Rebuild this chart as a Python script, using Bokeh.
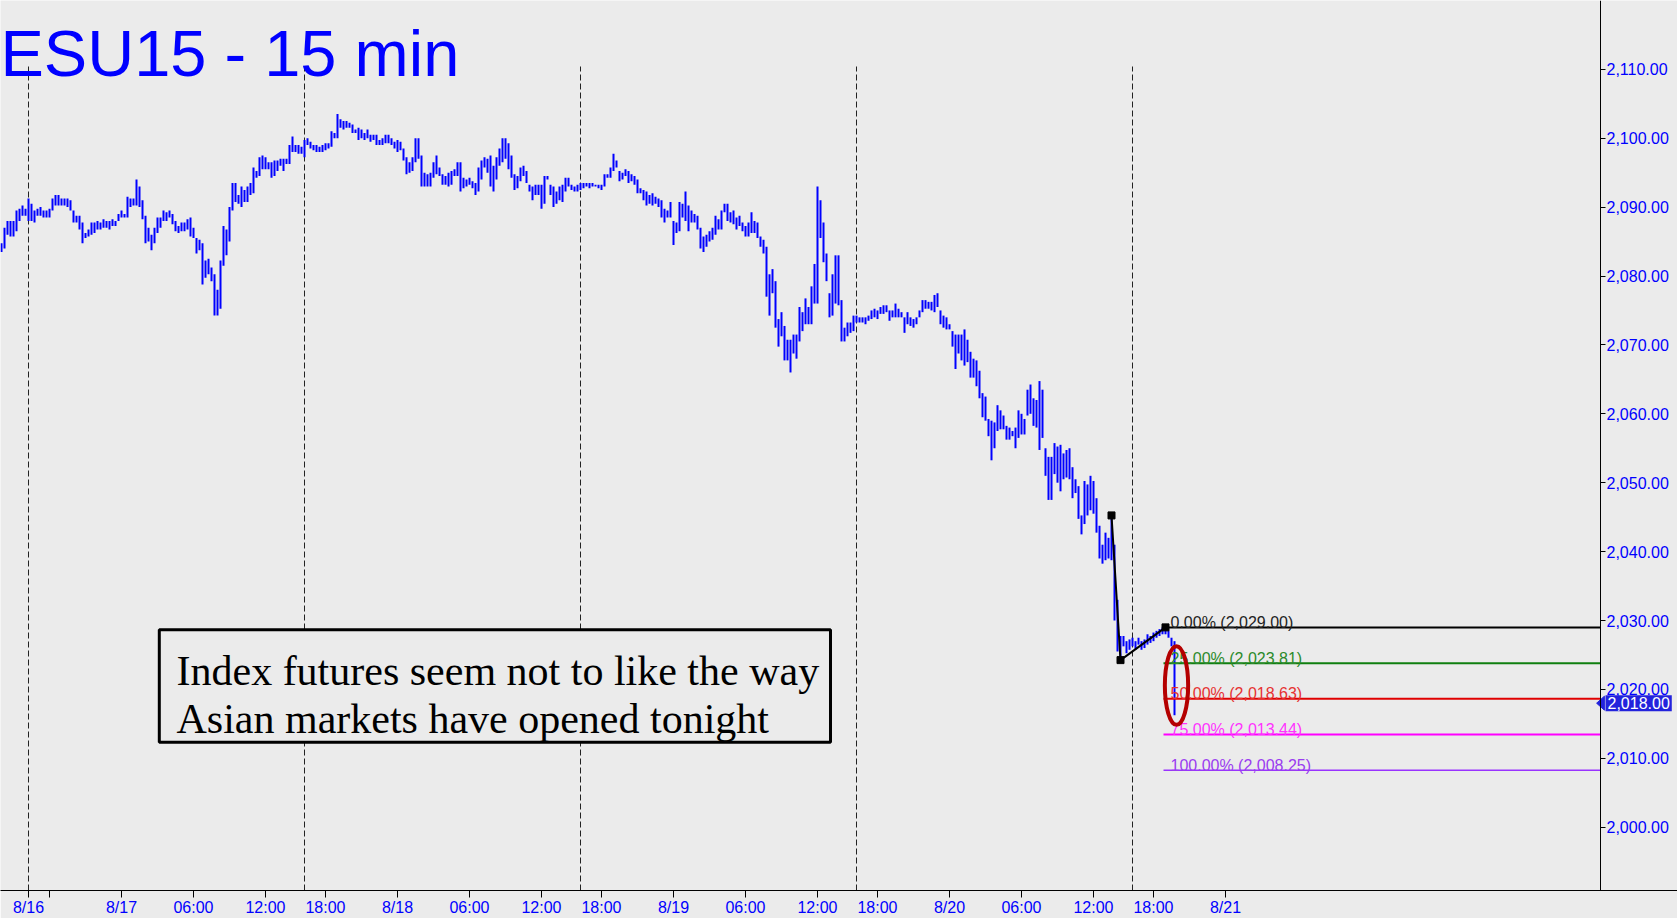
from bokeh.plotting import figure
from bokeh.models import FixedTicker, NumeralTickFormatter, Label, Range1d, BoxAnnotation
from bokeh.embed import file_html
from bokeh.resources import INLINE
from bokeh.core.properties import value

# ---------------- data (15-minute bars, indexed by bar number) ----------------
H1 = [2084.75, 2087.0, 2088.0, 2088.0, 2088.0, 2089.5, 2089.75, 2090.25, 2089.75, 2091.25,
      2090.5, 2089.5, 2089.75, 2090.0, 2089.5, 2089.5, 2089.75, 2091.25, 2091.75, 2091.75,
      2091.25, 2091.25, 2091.25, 2091.0, 2089.5, 2088.75, 2088.75, 2087.75, 2086.25, 2086.75,
      2087.75, 2087.75, 2088.0, 2087.75, 2088.25, 2088.0, 2088.0, 2088.25, 2088.0, 2089.0,
      2089.5, 2089.0, 2091.5, 2091.25, 2091.25, 2094.0, 2093.0, 2091.0, 2088.75, 2087.0,
      2086.0, 2087.0, 2088.5, 2088.5, 2089.5, 2089.25, 2089.5, 2089.0, 2088.0, 2087.25,
      2087.75, 2087.75, 2088.25, 2088.5, 2087.0, 2085.5, 2085.25, 2084.75, 2082.25, 2082.5,
      2081.25, 2080.25, 2078.0, 2082.25, 2087.25, 2086.75, 2090.0, 2093.5, 2093.5, 2091.75,
      2093.0, 2092.5, 2093.0, 2093.5, 2095.75, 2095.25, 2097.25, 2097.5, 2097.25, 2096.5,
      2096.5, 2096.75, 2096.75, 2097.0, 2097.0, 2097.0, 2099.0, 2100.25, 2099.0, 2099.0]
L1 = [2083.5, 2084.0, 2086.0, 2085.75, 2085.75, 2086.5, 2088.0, 2088.75, 2088.75, 2088.0,
      2088.0, 2087.75, 2088.75, 2088.75, 2088.5, 2088.5, 2088.5, 2089.5, 2090.25, 2090.25,
      2090.25, 2090.25, 2090.0, 2089.5, 2087.75, 2087.75, 2086.75, 2084.75, 2085.5, 2085.75,
      2086.0, 2086.25, 2086.75, 2086.75, 2087.0, 2087.0, 2086.75, 2087.25, 2087.25, 2088.0,
      2088.5, 2088.5, 2088.5, 2090.0, 2090.25, 2090.25, 2090.0, 2088.25, 2084.75, 2085.0,
      2083.75, 2084.75, 2086.25, 2087.0, 2088.0, 2088.0, 2088.5, 2087.5, 2086.5, 2086.25,
      2086.5, 2086.5, 2086.75, 2085.75, 2085.5, 2083.25, 2083.75, 2078.75, 2079.75, 2080.25,
      2079.25, 2074.25, 2074.25, 2075.25, 2081.5, 2083.0, 2085.0, 2089.5, 2090.75, 2090.5,
      2090.0, 2090.75, 2090.75, 2091.75, 2092.0, 2094.25, 2094.5, 2095.5, 2095.5, 2095.5,
      2094.25, 2094.5, 2095.25, 2096.0, 2095.25, 2096.25, 2096.25, 2098.0, 2098.0, 2097.75]
H2 = [2098.75, 2099.75, 2100.0, 2099.5, 2099.0, 2099.0, 2098.75, 2099.0, 2099.25, 2099.25,
      2101.0, 2100.75, 2103.5, 2102.75, 2102.5, 2102.5, 2102.25, 2102.0, 2101.25, 2101.5,
      2101.25, 2100.75, 2101.25, 2100.5, 2100.5, 2100.5, 2099.75, 2100.0, 2100.5, 2100.5,
      2100.0, 2099.5, 2099.75, 2099.5, 2098.5, 2097.25, 2096.5, 2097.25, 2100.0, 2100.0,
      2097.5, 2095.0, 2094.75, 2095.0, 2096.5, 2097.5, 2095.75, 2094.75, 2094.5, 2095.0,
      2095.25, 2095.5, 2096.5, 2096.5, 2094.25, 2094.0, 2094.25, 2093.75, 2093.5, 2095.75,
      2096.75, 2097.25, 2097.0, 2097.5, 2096.0, 2097.25, 2098.5, 2100.0, 2100.0, 2099.25,
      2097.5, 2094.75, 2094.5, 2095.75, 2096.0, 2095.25, 2093.25, 2093.0, 2093.25, 2093.25,
      2093.25, 2094.5, 2094.5, 2093.25, 2093.0, 2092.25, 2093.0, 2093.25, 2094.25, 2094.25,
      2093.25, 2093.0, 2093.25, 2093.5, 2093.5, 2093.5, 2093.5, 2093.5, 2093.25, 2093.25,
      2093.25]
L2 = [2097.75, 2097.25, 2099.0, 2098.5, 2098.25, 2098.0, 2098.0, 2098.0, 2098.25, 2098.5,
      2098.75, 2100.0, 2100.0, 2101.5, 2101.25, 2101.5, 2101.5, 2100.75, 2100.75, 2099.75,
      2100.0, 2099.75, 2100.0, 2099.5, 2099.75, 2099.0, 2099.0, 2099.0, 2099.25, 2099.25,
      2099.0, 2098.5, 2098.0, 2098.25, 2096.75, 2094.75, 2095.0, 2095.25, 2096.5, 2097.0,
      2093.0, 2093.0, 2093.0, 2093.0, 2094.25, 2094.75, 2094.5, 2093.25, 2093.25, 2093.0,
      2093.25, 2094.5, 2094.5, 2092.25, 2092.75, 2093.0, 2093.25, 2092.75, 2091.75, 2092.25,
      2094.0, 2095.75, 2095.0, 2093.0, 2092.25, 2094.0, 2096.0, 2096.5, 2097.0, 2095.5,
      2094.25, 2092.5, 2092.75, 2093.75, 2094.5, 2093.5, 2092.25, 2091.0, 2091.75, 2091.75,
      2089.75, 2090.5, 2094.0, 2091.75, 2090.0, 2090.5, 2091.0, 2090.75, 2092.25, 2093.0,
      2092.5, 2092.25, 2092.25, 2092.5, 2092.75, 2093.0, 2092.75, 2093.0, 2093.0, 2092.75,
      2092.5]
H3 = [2094.75, 2094.75, 2095.75, 2097.75, 2096.75, 2095.25, 2095.0, 2095.5, 2095.25, 2094.75,
      2094.5, 2094.0, 2092.75, 2092.5, 2092.25, 2091.75, 2092.0, 2091.5, 2091.25, 2091.0,
      2089.75, 2089.5, 2090.75, 2088.0, 2087.75, 2090.75, 2090.5, 2092.25, 2090.25, 2089.5,
      2089.0, 2088.75, 2087.0, 2085.75, 2086.0, 2086.5, 2087.0, 2088.75, 2088.25, 2089.5,
      2090.5, 2090.5, 2089.25, 2089.5, 2088.5, 2088.75, 2087.75, 2087.25, 2087.75, 2089.25,
      2088.0, 2087.75, 2085.75, 2085.25, 2084.25, 2080.25, 2081.0, 2079.25, 2073.75, 2074.75,
      2072.75, 2070.75, 2070.75, 2071.5, 2071.5, 2075.5, 2074.75, 2076.75, 2075.5, 2078.5,
      2081.75, 2093.0, 2091.0, 2087.75, 2083.25, 2077.5, 2080.25, 2083.0, 2083.0, 2076.5,
      2072.5, 2073.25, 2073.25, 2074.25, 2074.25, 2074.0, 2074.0, 2074.0, 2074.25, 2075.0,
      2075.25, 2075.0, 2075.5, 2075.75, 2075.75, 2075.0, 2075.0, 2076.0, 2075.25]
L3 = [2093.0, 2094.25, 2094.25, 2095.25, 2095.75, 2093.75, 2094.0, 2094.5, 2093.5, 2093.75,
      2093.25, 2092.0, 2092.0, 2091.0, 2090.25, 2090.5, 2090.25, 2090.5, 2090.0, 2088.5,
      2087.75, 2088.5, 2088.5, 2084.5, 2086.25, 2086.5, 2088.5, 2088.0, 2086.5, 2087.75,
      2087.75, 2086.75, 2084.0, 2083.5, 2084.25, 2085.0, 2085.25, 2086.0, 2086.75, 2086.75,
      2089.25, 2088.0, 2087.75, 2087.5, 2086.75, 2087.25, 2086.5, 2085.75, 2085.75, 2086.25,
      2086.25, 2085.5, 2084.25, 2083.25, 2077.0, 2074.25, 2077.5, 2072.5, 2069.75, 2071.25,
      2067.75, 2067.75, 2066.0, 2068.75, 2068.0, 2070.5, 2072.0, 2073.0, 2073.0, 2073.0,
      2076.0, 2076.0, 2085.5, 2082.0, 2079.25, 2074.0, 2074.25, 2076.0, 2075.75, 2070.5,
      2070.5, 2071.25, 2071.75, 2072.0, 2073.25, 2073.25, 2073.25, 2073.0, 2073.5, 2073.75,
      2074.0, 2073.75, 2074.5, 2074.5, 2074.75, 2073.5, 2074.0, 2074.0, 2074.0]
H4 = [2074.75, 2074.0, 2074.75, 2074.0, 2073.75, 2074.0, 2075.0, 2076.5, 2076.5, 2076.25,
      2076.25, 2077.25, 2077.5, 2075.0, 2074.25, 2074.0, 2073.0, 2072.0, 2071.5, 2071.5,
      2071.5, 2072.25, 2070.75, 2069.0, 2068.0, 2067.75, 2066.25, 2063.0, 2062.5, 2059.25,
      2059.0, 2058.75, 2061.25, 2060.5, 2059.75, 2058.25, 2058.0, 2057.5, 2058.0, 2060.5,
      2060.0, 2059.25, 2063.5, 2064.25, 2062.25, 2062.0, 2064.75, 2063.5, 2055.0, 2053.75,
      2053.75, 2055.75, 2055.25, 2055.5, 2054.25, 2054.75, 2055.0, 2052.25, 2050.5, 2049.5,
      2045.25, 2050.25, 2049.75, 2051.0, 2050.25, 2047.75, 2043.75, 2041.0, 2042.75, 2042.0,
      2045.25, 2041.0, 2033.0, 2027.75, 2027.75, 2027.0, 2027.25, 2027.5, 2027.0, 2027.5,
      2027.0, 2027.25, 2028.0, 2027.75, 2028.25, 2028.5, 2028.75, 2029.0, 2029.0, 2028.5,
      2027.5, 2027.0]
L4 = [2074.0, 2071.75, 2073.0, 2072.75, 2072.5, 2073.0, 2074.0, 2074.75, 2075.25, 2075.25,
      2075.0, 2074.75, 2075.5, 2073.0, 2072.5, 2072.25, 2072.25, 2069.75, 2066.5, 2068.75,
      2067.75, 2067.0, 2067.5, 2065.25, 2065.25, 2064.0, 2062.25, 2059.5, 2059.0, 2056.75,
      2053.25, 2055.0, 2057.5, 2057.75, 2057.75, 2056.25, 2056.25, 2056.75, 2055.0, 2056.5,
      2057.0, 2057.0, 2059.75, 2060.0, 2058.25, 2058.0, 2054.75, 2056.5, 2051.0, 2047.5,
      2047.5, 2051.25, 2050.0, 2048.75, 2050.5, 2050.75, 2050.5, 2047.75, 2048.5, 2044.75,
      2042.5, 2044.0, 2045.25, 2046.0, 2045.5, 2042.75, 2039.0, 2038.25, 2038.75, 2039.0,
      2038.75, 2030.0, 2025.5, 2024.25, 2026.25, 2025.25, 2025.75, 2026.25, 2025.75, 2026.5,
      2025.75, 2026.0, 2026.5, 2026.75, 2027.0, 2027.5, 2027.75, 2028.0, 2028.0, 2027.5,
      2026.25, 2016.25]

highs = H1 + H2 + H3 + H4
lows = L1 + L2 + L3 + L4
bar_index = list(range(len(highs)))

# session-start bars (dashed separators)
session_bars = [9, 101, 193, 285, 377]

# time axis
xtick_bars = [9, 16, 40, 64, 88, 108, 132, 156, 180, 200, 224, 248, 272, 292,
              316, 340, 364, 384, 408]
xtick_labels = ["8/16", "", "8/17", "06:00", "12:00", "18:00", "8/18", "06:00", "12:00",
                "18:00", "8/19", "06:00", "12:00", "18:00", "8/20", "06:00", "12:00",
                "18:00", "8/21"]
ytick_values = [2000, 2010, 2020, 2030, 2040, 2050, 2060, 2070, 2080, 2090, 2100, 2110]

# swing points (black line) and retracement levels
swing_bars = [370, 373, 388]
swing_prices = [2045.25, 2024.25, 2029.00]
fib_pcts = ["0.00%", "25.00%", "50.00%", "75.00%", "100.00%"]
fib_levels = [2029.00, 2023.81, 2018.63, 2013.44, 2008.25]
last_price = 2018.00
title_text = "ESU15 - 15 min"
note_lines = ["Index futures seem not to like the way", "Asian markets have opened tonight"]

# ---------------- layout helpers (reference pixel -> data) ----------------
FRAME_W, FRAME_H = 1677, 890
AXIS_PX = 1600          # pixel column of the price axis


def xj(px):
    return (px - 1.0) / 3.0


def yv(py):
    return 2000 + (826.7 - py) / 6.89


x_lo, x_hi = xj(0), xj(FRAME_W)
y_lo, y_hi = yv(FRAME_H), yv(0)
x_axis = xj(AXIS_PX)

BG = "#ebebeb"
BLUE = "#0000ff"

p = figure(frame_width=FRAME_W, frame_height=FRAME_H,
           x_range=Range1d(x_lo, x_hi), y_range=Range1d(y_lo, y_hi),
           output_backend="svg", toolbar_location=None, y_axis_location="right",
           min_border=0)
p.background_fill_color = BG
p.border_fill_color = BG
p.outline_line_color = None
p.grid.visible = False

# session separators
p.segment(x0=session_bars, x1=session_bars, y0=[y_lo] * len(session_bars),
          y1=[yv(66)] * len(session_bars), line_color="#222222", line_width=1,
          line_dash="6 3")

# price bars
p.segment(x0=bar_index, x1=bar_index, y0=lows, y1=highs, line_color=BLUE, line_width=2)

# retracement lines
fib_line_colors = ["#000000", "#0f7f0f", "#e00000", "#ff00ff", "#9933ff"]
fib_text_colors = ["#222222", "#2b8a2b", "#e63232", "#ff33ff", "#9a3cf0"]
fib_widths = [2, 2, 2, 2, 1.5]
n = len(fib_levels)
p.segment(x0=[xj(1163)] * n, x1=[x_axis] * n, y0=fib_levels, y1=fib_levels,
          line_color=fib_line_colors, line_width=fib_widths)
p.text(x=[xj(1170)] * n, y=fib_levels,
       text=[f"{pc} ({lv:,.2f})" for pc, lv in zip(fib_pcts, fib_levels)],
       text_color=fib_text_colors, text_font=value("Liberation Sans"),
       text_font_size="16px", text_baseline="alphabetic", y_offset=-5)

# swing line
p.line(swing_bars, swing_prices, line_color="black", line_width=2)
p.scatter(swing_bars, swing_prices, marker="square", size=7, color="black")

# red ellipse around the last bar
p.ellipse(x=[xj(1176)], y=[yv(685)], width=[23.3 / 3.0], height=[78.7 / 6.89],
          fill_color=None, line_color="#b40000", line_width=4)

# note box
p.add_layout(BoxAnnotation(left=xj(158.8), right=xj(830), top=yv(629.3), bottom=yv(741.7),
                           fill_color=BG, fill_alpha=1.0, line_color="black",
                           line_alpha=1.0, line_width=3))
for i, t in enumerate(note_lines):
    p.add_layout(Label(x=xj(176), y=yv(670 + 48.3 * i), text=t, text_font="Liberation Serif",
                       text_font_size="42px", text_color="black", text_baseline="alphabetic"))

# title
p.add_layout(Label(x=x_lo, y=yv(53.3), text=title_text, text_font="Liberation Sans",
                   text_font_size="65px", text_color=BLUE, text_baseline="alphabetic"))

# axes
xa = p.xaxis[0]
xa.ticker = FixedTicker(ticks=xtick_bars)
xa.major_label_overrides = {b: lab for b, lab in zip(xtick_bars, xtick_labels)}
xa.minor_tick_line_color = None
xa.major_tick_in = 0
xa.major_tick_out = 7
xa.major_label_standoff = 1
xa.major_label_text_font = "Liberation Sans"
xa.major_label_text_font_size = "16px"
xa.major_label_text_color = BLUE
xa.axis_line_color = "black"

ya = p.yaxis[0]
ya.fixed_location = x_axis
ya.ticker = FixedTicker(ticks=ytick_values)
ya.formatter = NumeralTickFormatter(format="0,0.00")
ya.minor_tick_line_color = None
ya.major_tick_in = 0
ya.major_tick_out = 5
ya.major_label_standoff = 1
ya.major_label_text_font = "Liberation Sans"
ya.major_label_text_font_size = "16px"
ya.major_label_text_color = BLUE
ya.axis_line_color = "black"

# last-price tag on the price axis
tag_h = 7.0 / 6.89
p.patch([x_axis - 1.3, x_axis + 1.3, x_axis + 1.3],
        [last_price, last_price + tag_h, last_price - tag_h],
        fill_color="#2323dc", line_color="#2323dc")
p.add_layout(Label(x=x_axis, y=last_price, text=f"{last_price:,.2f}", x_offset=5,
                   text_font="Liberation Sans", text_font_size="16px", text_color="white",
                   text_baseline="middle", background_fill_color="#2323dc", padding=2))

open("out.html", "w").write(file_html(p, INLINE))
